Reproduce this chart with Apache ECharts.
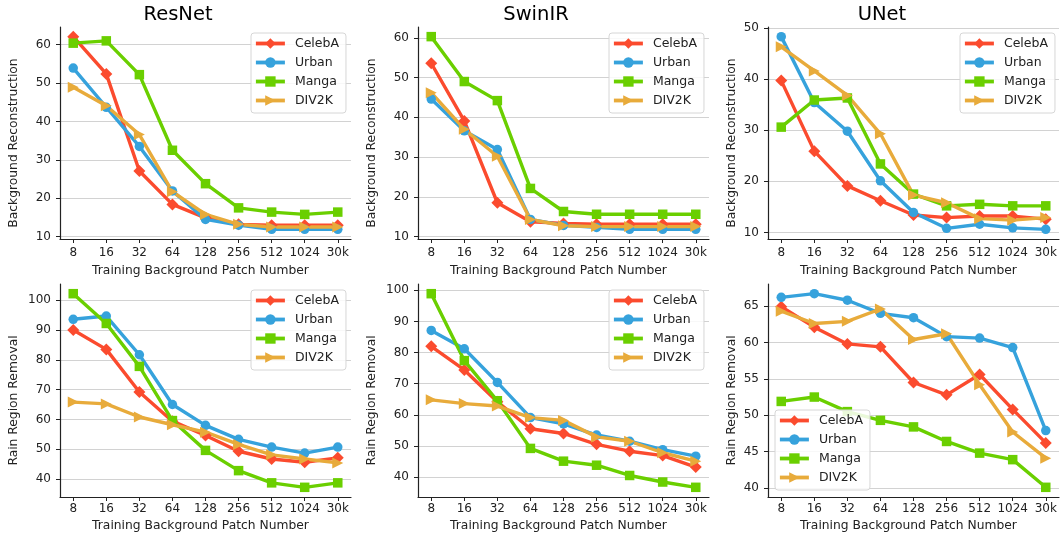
<!DOCTYPE html>
<html>
<head>
<meta charset="utf-8">
<script src="https://cdn.jsdelivr.net/npm/echarts@6/dist/echarts.min.js"></script>
<style>
  html, body { margin: 0; padding: 0; background: #fff; }
  #box { width: 1060px; height: 533px; }
</style>
</head>
<body>
<div id="box"></div>
<script>
// x categories
const patchLabels = ["8", "16", "32", "64", "128", "256", "512", "1024", "30k"];
const datasets = ["CelebA", "Urban", "Manga", "DIV2K"];

// rows: CelebA, Urban, Manga, DIV2K
const resnetBg = [
  [62.1, 52.4, 27.1, 18.4, 14.9, 13.2, 13.0, 13.0, 13.0],
  [53.9, 43.7, 33.5, 21.9, 14.5, 13.0, 11.9, 11.9, 11.9],
  [60.4, 61.0, 52.2, 32.5, 23.8, 17.5, 16.4, 15.8, 16.4],
  [48.9, 44.1, 36.6, 21.7, 15.8, 13.2, 12.5, 12.5, 12.5],
];
const swinirBg = [
  [53.6, 39.1, 18.5, 13.7, 13.3, 13.1, 13.1, 13.1, 13.1],
  [44.6, 36.6, 31.9, 14.3, 12.8, 12.3, 11.8, 11.8, 11.8],
  [60.3, 49.0, 44.2, 22.1, 16.3, 15.6, 15.6, 15.6, 15.6],
  [46.2, 37.0, 30.2, 14.3, 12.7, 12.5, 12.5, 12.5, 12.5],
];
const unetBg = [
  [39.7, 25.9, 19.1, 16.2, 13.4, 12.9, 13.2, 13.2, 12.6],
  [48.3, 35.4, 29.8, 20.1, 13.9, 10.8, 11.6, 10.9, 10.6],
  [30.6, 35.9, 36.3, 23.4, 17.5, 15.2, 15.5, 15.2, 15.2],
  [46.3, 41.6, 36.8, 29.3, 17.3, 15.8, 12.7, 12.4, 12.9],
];
const resnetRain = [
  [90.0, 83.5, 69.2, 59.4, 54.6, 49.3, 46.7, 45.6, 47.1],
  [93.6, 94.7, 81.7, 65.0, 58.0, 53.3, 50.7, 48.7, 50.7],
  [102.2, 92.2, 77.8, 59.6, 49.6, 42.8, 38.7, 37.2, 38.7],
  [65.8, 65.2, 60.8, 58.2, 55.7, 51.6, 48.1, 46.7, 45.4],
];
const swinirRain = [
  [82.0, 74.4, 64.2, 55.5, 54.0, 50.5, 48.3, 46.9, 43.2],
  [87.1, 81.2, 70.4, 59.1, 57.1, 53.5, 51.5, 48.8, 46.7],
  [98.9, 77.4, 64.5, 49.2, 45.1, 43.8, 40.5, 38.4, 36.7],
  [64.8, 63.6, 62.8, 59.1, 58.2, 52.9, 51.5, 47.8, 45.1],
];
const unetRain = [
  [64.9, 62.1, 59.8, 59.4, 54.5, 52.8, 55.6, 50.8, 46.2],
  [66.2, 66.7, 65.8, 64.0, 63.4, 60.8, 60.6, 59.3, 47.9],
  [51.9, 52.5, 50.5, 49.3, 48.4, 46.4, 44.8, 43.9, 40.1],
  [64.3, 62.6, 62.9, 64.6, 60.4, 61.2, 54.2, 47.7, 44.1],
];

// y tick labels per panel
const bgTicks = [10, 20, 30, 40, 50, 60];
const unetBgTicks = [10, 20, 30, 40, 50];
const rainTicks = [40, 50, 60, 70, 80, 90, 100];
const unetRainTicks = [40, 45, 50, 55, 60, 65];

const colors = ["#fb4b2e", "#36a2dc", "#6acf00", "#e8ab3b"];
const symbols = ["diamond", "circle", "rect", "triangle"];
const symbolSizes = [12, 9.5, 9.5, 11];
const font = "DejaVu Sans";
const ink = "#222";

const panels = [
  { data: resnetBg, ticks: bgTicks, yName: "Background Reconstruction", left: 60, top: 27, h: 212, gap: 40, legend: [251, 33] },
  { data: swinirBg, ticks: bgTicks, yName: "Background Reconstruction", left: 418, top: 27, h: 212, gap: 40, legend: [609, 33] },
  { data: unetBg, ticks: unetBgTicks, yName: "Background Reconstruction", left: 768, top: 27, h: 212, gap: 30, legend: [960, 33] },
  { data: resnetRain, ticks: rainTicks, yName: "Rain Region Removal", left: 60, top: 284, h: 213, gap: 40, legend: [251, 290] },
  { data: swinirRain, ticks: rainTicks, yName: "Rain Region Removal", left: 418, top: 284, h: 213, gap: 40, legend: [609, 290] },
  { data: unetRain, ticks: unetRainTicks, yName: "Rain Region Removal", left: 768, top: 284, h: 213, gap: 30, legend: [775, 410] },
];
const titles = [["ResNet", 178], ["SwinIR", 536], ["UNet", 882]];

const xIdx = patchLabels.map((_, i) => i);

var myChart = echarts.init(document.getElementById("box"), null, { renderer: "canvas" });

let grid = [], xAxis = [], yAxis = [], series = [], legend = [];

panels.forEach((p, k) => {
  const bottomRow = k >= 3;
  grid.push({ left: p.left, top: p.top, width: 291, height: p.h });

  xAxis.push({
    type: "value",
    gridIndex: k,
    min: -0.4,
    max: 8.4,
    name: "Training Background Patch Number",
    nameLocation: "middle",
    nameGap: bottomRow ? 23 : 26,
    nameTextStyle: { fontFamily: font, fontSize: 12.3, color: ink, padding: [0, 10, 0, 0] },
    axisLine: { onZero: false, lineStyle: { color: ink, width: 1.2 } },
    axisTick: { show: true, customValues: xIdx, length: 4, lineStyle: { color: ink } },
    axisLabel: {
      customValues: xIdx,
      formatter: (v) => patchLabels[Math.round(v)],
      fontFamily: font, fontSize: 12, color: ink,
      margin: bottomRow ? 6 : 8,
    },
    splitLine: { show: false },
  });

  yAxis.push({
    type: "value",
    gridIndex: k,
    min: (v) => v.min - 0.05 * (v.max - v.min),
    max: (v) => v.max + 0.05 * (v.max - v.min),
    name: p.yName,
    nameLocation: "middle",
    nameGap: p.gap,
    nameTextStyle: { fontFamily: font, fontSize: 12.3, color: ink, padding: [0, 20, 0, 0] },
    axisLine: { show: true, onZero: false, lineStyle: { color: ink, width: 1.2 } },
    axisTick: { show: true, customValues: p.ticks, length: 4, lineStyle: { color: ink } },
    axisLabel: { customValues: p.ticks, fontFamily: font, fontSize: 12, color: ink, margin: 9 },
    splitLine: { show: true, lineStyle: { color: "#d2d2d2", width: 1 } },
  });

  p.data.forEach((vals, s) => {
    series.push({
      name: datasets[s],
      type: "line",
      xAxisIndex: k,
      yAxisIndex: k,
      data: vals.map((v, j) => [j, v]),
      symbol: symbols[s],
      symbolSize: symbolSizes[s],
      symbolRotate: s === 3 ? -90 : 0,
      showAllSymbol: true,
      lineStyle: { width: 3.4, color: colors[s] },
      itemStyle: { color: colors[s] },
      emphasis: { disabled: true },
    });
  });

  legend.push({
    left: p.legend[0],
    top: p.legend[1],
    orient: "vertical",
    itemWidth: 29,
    itemHeight: 13,
    itemGap: 0,
    padding: [1, 7, 3, 3],
    backgroundColor: "rgba(255,255,255,0.85)",
    borderColor: "#d6d6d6",
    borderWidth: 1,
    borderRadius: 3,
    selectedMode: false,
    lineStyle: { width: 3.8 },
    textStyle: { fontFamily: font, fontSize: 12.5, color: ink, lineHeight: 19, padding: [0, 0, 0, 5] },
    data: datasets,
  });
});

myChart.setOption({
  animation: false,
  textStyle: { fontFamily: font },
  grid: grid,
  xAxis: xAxis,
  yAxis: yAxis,
  legend: legend,
  series: series,
  graphic: titles.map((t) => ({
    type: "text",
    x: t[1],
    y: 14.5,
    style: {
      text: t[0],
      fontFamily: font,
      fontSize: 19.5,
      fill: "#000",
      textAlign: "center",
      textVerticalAlign: "middle",
    },
  })),
});
</script>
</body>
</html>
